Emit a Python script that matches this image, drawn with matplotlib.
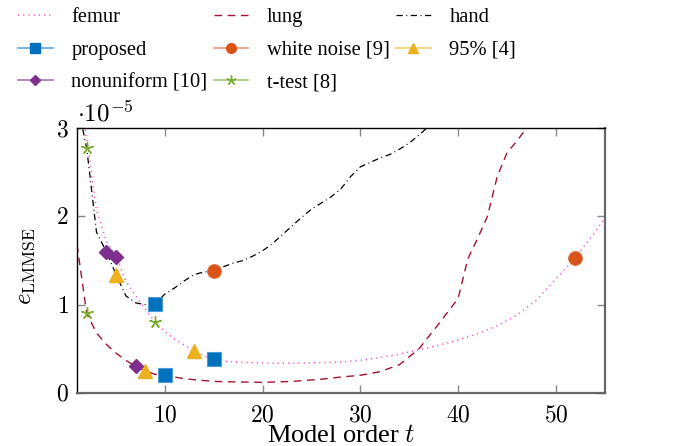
import numpy as np
import matplotlib
matplotlib.use("Agg")
import matplotlib.pyplot as plt
from matplotlib.lines import Line2D

plt.rcParams['font.family'] = ['Liberation Serif', 'DejaVu Serif']
plt.rcParams['mathtext.fontset'] = 'cm'

# ---- data (values in units of 1e-5) ----
femur_t = [1, 2, 3, 4, 5, 6, 7, 8, 9, 10, 11, 12, 13, 14, 15, 16, 17, 18, 20, 22, 25, 28, 30,
           32, 34, 36, 38, 40, 42, 44, 46, 48, 50, 52, 54, 55]
femur_v = [3.5, 2.88, 2.07, 1.72, 1.54, 1.27, 1.10, 0.95, 0.80, 0.69, 0.61, 0.54, 0.48, 0.42,
           0.38, 0.36, 0.35, 0.345, 0.34, 0.335, 0.34, 0.35, 0.37, 0.40, 0.44, 0.49, 0.54,
           0.60, 0.67, 0.76, 0.88, 1.05, 1.29, 1.53, 1.82, 1.98]

lung_t = [1, 2, 3, 4, 5, 6, 7, 8, 9, 10, 11, 12, 13, 14, 15, 17, 20, 23, 26, 28, 30, 32, 34,
          36, 38, 40, 41, 42, 43, 44, 45, 46, 47, 48]
lung_v = [1.68, 0.90, 0.68, 0.55, 0.45, 0.37, 0.30, 0.25, 0.21, 0.20, 0.18, 0.16, 0.15, 0.14,
          0.13, 0.125, 0.12, 0.13, 0.155, 0.18, 0.20, 0.24, 0.32, 0.50, 0.78, 1.07, 1.52,
          1.75, 2.0, 2.45, 2.72, 2.85, 3.0, 3.2]

hand_t = [1, 2, 3, 4, 5, 6, 7, 8, 9, 10, 11, 12, 13, 14, 15, 16, 17, 18, 19, 20, 21, 22, 23,
          24, 25, 26, 27, 28, 29, 30, 31, 32, 33, 34, 35, 36, 37, 38]
hand_v = [3.3, 2.77, 1.82, 1.60, 1.34, 1.10, 1.02, 1.00, 1.01, 1.12, 1.19, 1.27, 1.34, 1.37,
          1.38, 1.43, 1.47, 1.50, 1.55, 1.61, 1.69, 1.79, 1.89, 1.99, 2.08, 2.15, 2.22, 2.31,
          2.45, 2.56, 2.61, 2.66, 2.70, 2.76, 2.83, 2.92, 3.02, 3.12]

proposed_t = [9, 10, 15]
proposed_v = [1.01, 0.20, 0.38]
white_t = [15, 52]
white_v = [1.38, 1.53]
p95_t = [5, 8, 13]
p95_v = [1.34, 0.25, 0.48]
nonuni_t = [4, 5, 7]
nonuni_v = [1.60, 1.54, 0.30]
ttest_t = [2, 2, 9]
ttest_v = [2.77, 0.90, 0.80]

x_ticks = [10, 20, 30, 40, 50]
y_ticks = [0, 1, 2, 3]

# ---- colours ----
c_femur = '#ff4fc8'
c_lung = '#a2142f'
c_hand = '#000000'
c_prop, c_prop_l = '#0072bd', '#6aaee0'
c_white, c_white_l = '#d95319', '#eda083'
c_95, c_95_l = '#edb120', '#f4d37c'
c_non, c_non_l = '#7e2f8e', '#b07fbb'
c_tt, c_tt_l = '#77ac30', '#acd082'

fig = plt.figure(figsize=(6.81, 4.46), dpi=100)
ax = fig.add_axes([0.113, 0.119, 0.775, 0.594])

ax.plot(femur_t, femur_v, color=c_femur, lw=1.1, linestyle=(0, (0.8, 2.6)))
ax.plot(lung_t, lung_v, color=c_lung, lw=1.0, linestyle=(0, (5.5, 4.0)))
ax.plot(hand_t, hand_v, color=c_hand, lw=0.9, linestyle=(0, (5.0, 2.8, 0.8, 2.8)))

ax.plot(proposed_t, proposed_v, linestyle='none', marker='s', ms=10, color=c_prop,
        mec='#4d9bd6', mew=0.8)
ax.plot(white_t, white_v, linestyle='none', marker='o', ms=10, color=c_white,
        mec='#e07040', mew=0.6)
ax.plot(p95_t, p95_v, linestyle='none', marker='^', ms=10, color=c_95, mec=c_95)
ax.plot(nonuni_t, nonuni_v, linestyle='none', marker='D', ms=7.5, color=c_non, mec=c_non)
ax.plot(ttest_t, ttest_v, linestyle='none', marker=(5, 2, 0), ms=9, color=c_tt,
        mec=c_tt, mew=1.0)

ax.set_xlim(1, 55)
ax.set_ylim(0, 3)
ax.set_xticks(x_ticks)
ax.set_yticks(y_ticks)
ax.set_xticklabels([f'${v}$' for v in x_ticks])
ax.set_yticklabels([f'${v}$' for v in y_ticks])
ax.tick_params(direction='in', length=6, width=1.0, color='#888888', labelsize=17,
               top=True, right=True)
ax.tick_params(axis='x', pad=9)
ax.tick_params(axis='y', pad=6)

for s in ['left', 'top']:
    ax.spines[s].set_color('black')
    ax.spines[s].set_linewidth(1.0)
for s in ['right', 'bottom']:
    ax.spines[s].set_color('#666666')
    ax.spines[s].set_linewidth(1.6)

ax.set_xlabel('Model order $t$', fontsize=19, labelpad=-1)
ax.set_ylabel(r'$e_{\mathrm{LMMSE}}$', fontsize=18)
ax.yaxis.set_label_coords(-0.075, 0.48)
ax.text(0.0, 1.008, r'$\cdot 10^{-5}$', transform=ax.transAxes, fontsize=18,
        ha='left', va='bottom')

handles = [
    Line2D([], [], color=c_femur, lw=1.1, linestyle=(0, (0.8, 2.6))),
    Line2D([], [], color=c_prop_l, lw=1.3, marker='s', ms=7, mfc=c_prop, mec=c_prop),
    Line2D([], [], color=c_non_l, lw=1.3, marker='D', ms=5.5, mfc=c_non, mec=c_non),
    Line2D([], [], color=c_lung, lw=1.0, linestyle=(0, (5.5, 4.0))),
    Line2D([], [], color=c_white_l, lw=1.3, marker='o', ms=7, mfc=c_white, mec=c_white),
    Line2D([], [], color=c_tt_l, lw=1.3, marker=(5, 2, 0), ms=7, mec=c_tt),
    Line2D([], [], color=c_hand, lw=0.9, linestyle=(0, (5.0, 2.8, 0.8, 2.8))),
    Line2D([], [], color=c_95_l, lw=1.3, marker='^', ms=7, mfc=c_95, mec=c_95),
]
labels = ['femur', 'proposed', 'nonuniform [10]', 'lung', 'white noise [9]', 't-test [8]',
          'hand', '95% [4]']
fig.legend(handles, labels, ncol=3, frameon=False, loc='upper left',
           bbox_to_anchor=(0.005, 1.015), fontsize=14.8, handlelength=1.7,
           handletextpad=0.9, columnspacing=0.3, labelspacing=0.65, borderpad=0.2)

fig.savefig('out.png', dpi=100)
